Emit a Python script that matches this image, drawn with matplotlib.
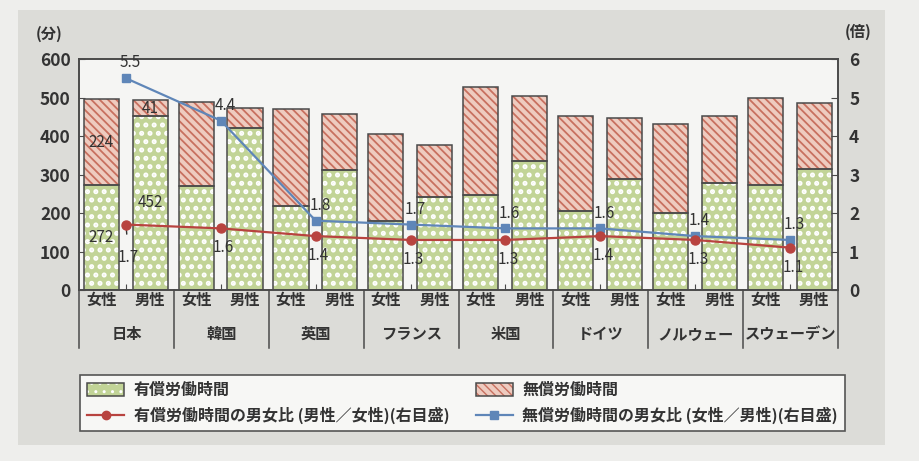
import numpy as np
import matplotlib.pyplot as plt
from matplotlib.patches import Patch, Rectangle
from matplotlib.lines import Line2D

plt.rcParams['font.family'] = ['Noto Sans CJK JP', 'DejaVu Sans']

# data (minutes per day, ratios)
countries = ['日本', '韓国', '英国', 'フランス', '米国', 'ドイツ', 'ノルウェー', 'スウェーデン']
sexes = ['女性', '男性']
female_paid = [272, 269, 219, 180, 248, 206, 200, 274]
female_unpaid = [224, 220, 251, 226, 278, 245, 231, 225]
male_paid = [452, 422, 312, 241, 336, 288, 277, 315]
male_unpaid = [41, 51, 145, 135, 167, 158, 174, 171]
paid_ratio = [1.7, 1.6, 1.4, 1.3, 1.3, 1.4, 1.3, 1.1]
unpaid_ratio = [5.5, 4.4, 1.8, 1.7, 1.6, 1.6, 1.4, 1.3]
left_ticks = [0, 100, 200, 300, 400, 500, 600]
right_ticks = [0, 1, 2, 3, 4, 5, 6]

green_face = '#c2d497'
pink_face = '#eecbbf'
pink_hatch = '#c8705f'
red = '#b8433f'
blue = '#5f86b8'
edge = '#4a4a4a'
txt = '#333333'

DOTS = '..'
STRIPES = '\\\\\\\\'
DOT_LW = 2.4
STRIPE_LW = 1.3

fig = plt.figure(figsize=(9.19, 4.61), dpi=100, facecolor='#eeeeec')
# grey panel behind the chart
fig.patches.append(Rectangle((18 / 919, 1 - 445 / 461), 867 / 919, 435 / 461,
                             transform=fig.transFigure, facecolor='#dcdcd8',
                             edgecolor='none', zorder=-5))

ax = fig.add_axes([79 / 919, 1 - 290 / 461, 759 / 919, 231 / 461])
ax.set_facecolor('#f5f5f3')
ax2 = ax.twinx()

n = len(countries)
idx = np.arange(n)
xf = idx + 0.235
xm = idx + 0.75
xr = idx + 0.495
w = 0.37


def hatched_bar(x, h, bottom, face, hcolor, hatch, hlw):
    with plt.rc_context({'hatch.linewidth': hlw}):
        ax.bar(x, h, w, bottom=bottom, color=face, edgecolor=hcolor, hatch=hatch,
               linewidth=0, zorder=2)
    ax.bar(x, h, w, bottom=bottom, fill=False, edgecolor=edge, linewidth=1.1, zorder=3)


for x, paid, unpaid in ((xf, female_paid, female_unpaid), (xm, male_paid, male_unpaid)):
    hatched_bar(x, paid, 0, green_face, 'white', DOTS, DOT_LW)
    hatched_bar(x, unpaid, paid, pink_face, pink_hatch, STRIPES, STRIPE_LW)

# Japan value labels at segment centres
lab_kw = dict(ha='center', va='center', fontsize=11, color=txt, zorder=6)
ax.text(xf[0], female_paid[0] / 2, str(female_paid[0]), **lab_kw)
ax.text(xf[0], female_paid[0] + female_unpaid[0] / 2, str(female_unpaid[0]), **lab_kw)
ax.text(xm[0], male_paid[0] / 2, str(male_paid[0]), **lab_kw)
ax.text(xm[0], male_paid[0] + male_unpaid[0] / 2, str(male_unpaid[0]), **lab_kw)

ax.set_xlim(0, n)
ax.set_ylim(0, 600)
ax.set_yticks(left_ticks)
ax2.set_ylim(0, 6)
ax2.set_yticks(right_ticks)

ax2.plot(xr, unpaid_ratio, color=blue, lw=1.6, marker='s', ms=6, zorder=4)
ax2.plot(xr, paid_ratio, color=red, lw=1.6, marker='o', ms=6.5, zorder=5)
ax2.set_zorder(ax.get_zorder() + 1)
ax2.patch.set_visible(False)

for i in range(n):
    ax2.annotate(f'{unpaid_ratio[i]:.1f}', (xr[i], unpaid_ratio[i]), xytext=(3, 11),
                 textcoords='offset points', ha='center', va='center',
                 fontsize=11, color=txt)
    if i == 0:
        # Japan's label sits lower, tied to its point by a short leader
        ax2.annotate(f'{paid_ratio[i]:.1f}', (xr[i], paid_ratio[i]), xytext=(2, -24),
                     textcoords='offset points', ha='center', va='center',
                     fontsize=11, color=txt,
                     arrowprops=dict(arrowstyle='-', color=txt, lw=1,
                                     shrinkA=9, shrinkB=4))
    else:
        ax2.annotate(f'{paid_ratio[i]:.1f}', (xr[i], paid_ratio[i]), xytext=(2, -14),
                     textcoords='offset points', ha='center', va='center',
                     fontsize=11, color=txt)

for a in (ax, ax2):
    for s in a.spines.values():
        s.set_color(edge)
        s.set_linewidth(1.2)
ax.tick_params(axis='y', direction='in', length=4, color=edge, labelsize=12.5,
               labelcolor=txt, pad=6)
ax2.tick_params(axis='y', direction='in', length=5, color=edge, labelsize=12.5,
                labelcolor=txt, pad=8)
for t in ax.get_yticklabels() + ax2.get_yticklabels():
    t.set_fontweight('bold')
ax.set_xticks(xr)
ax.set_xticklabels([])
ax.tick_params(axis='x', direction='in', length=4, color=edge)

# two-row category axis
tr = ax.get_xaxis_transform()
for i in range(n):
    ax.text(xf[i], -0.045, sexes[0], transform=tr, ha='center', va='center',
            fontsize=11, fontweight='bold', color=txt)
    ax.text(xm[i], -0.045, sexes[1], transform=tr, ha='center', va='center',
            fontsize=11, fontweight='bold', color=txt)
    ax.text(i + 0.5, -0.19, countries[i], transform=tr, ha='center', va='center',
            fontsize=11, fontweight='bold', color=txt)
for i in range(n + 1):
    ax.plot([i, i], [0, -0.25], transform=tr, color=edge, lw=1.1, clip_on=False)

fig.text(49 / 919, 1 - 34 / 461, '(分)', ha='center', va='center', fontsize=11,
         fontweight='bold', color=txt)
fig.text(858 / 919, 1 - 32 / 461, '(倍)', ha='center', va='center', fontsize=11,
         fontweight='bold', color=txt)

# legend swatches: hatched fill with an outline on top
with plt.rc_context({'hatch.linewidth': DOT_LW}):
    paid_fill = Patch(facecolor=green_face, edgecolor='white', hatch=DOTS, linewidth=0)
with plt.rc_context({'hatch.linewidth': STRIPE_LW}):
    unpaid_fill = Patch(facecolor=pink_face, edgecolor=pink_hatch, hatch=STRIPES, linewidth=0)
outline = Patch(fill=False, edgecolor=edge, linewidth=1.1)

handles = [
    (paid_fill, outline),
    Line2D([], [], color=red, lw=1.6, marker='o', ms=6),
    (unpaid_fill, outline),
    Line2D([], [], color=blue, lw=1.6, marker='s', ms=5.5),
]
labels = ['有償労働時間', '有償労働時間の男女比 (男性／女性)(右目盛)',
          '無償労働時間', '無償労働時間の男女比 (女性／男性)(右目盛)']
leg = fig.legend(handles, labels, ncol=2, loc='lower left', mode='expand',
                 bbox_to_anchor=(80 / 919, 1 - 431 / 461, 765 / 919, 67 / 461),
                 fancybox=False, framealpha=1, edgecolor='#555555',
                 prop={'size': 11.5, 'weight': 'bold'}, handlelength=2.3,
                 handleheight=0.85, handletextpad=0.6, labelspacing=0.55,
                 borderaxespad=0, borderpad=0.45, columnspacing=2.0)
leg.get_frame().set_facecolor('#f7f7f5')
leg.get_frame().set_linewidth(1.2)
for t in leg.get_texts():
    t.set_color(txt)

fig.savefig('out.png', dpi=100, facecolor=fig.get_facecolor())
